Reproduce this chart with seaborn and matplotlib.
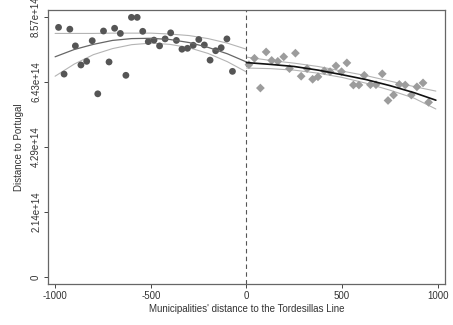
"""
Regression-discontinuity plot: distance to Portugal around the Tordesillas Line.
"""

import matplotlib

matplotlib.use("Agg")
import matplotlib.pyplot as plt
import numpy as np
import pandas as pd
import seaborn as sns

SCALE = 1e14

# binned means, west side of the line (values in units of 1e14)
west_x = [-982, -953, -923, -894, -865, -835, -806, -777, -747, -718, -689,
          -659, -630, -601, -571, -542, -513, -483, -454, -425, -396, -366,
          -337, -308, -278, -249, -220, -190, -161, -132, -102, -73]
west_y = [8.23, 6.69, 8.17, 7.62, 6.99, 7.11, 7.79, 6.04, 8.11, 7.09, 8.20,
          8.03, 6.65, 8.56, 8.56, 8.10, 7.76, 7.81, 7.62, 7.85, 8.05, 7.80,
          7.51, 7.54, 7.64, 7.83, 7.65, 7.15, 7.46, 7.56, 7.85, 6.78]

# binned means, east side of the line
east_x = [13, 42, 73, 103, 132, 164, 195, 225, 256, 286, 317, 346, 374, 407,
          437, 468, 497, 525, 559, 588, 616, 648, 677, 710, 740, 769, 799,
          830, 862, 891, 923, 952]
east_y = [7.00, 7.21, 6.23, 7.42, 7.14, 7.11, 7.26, 6.87, 7.38, 6.62, 6.87,
          6.52, 6.60, 6.80, 6.77, 6.96, 6.77, 7.06, 6.33, 6.33, 6.65, 6.34,
          6.34, 6.70, 5.82, 6.00, 6.35, 6.33, 6.00, 6.27, 6.40, 5.76]

# quadratic fit and confidence bounds
west_fit_x = [-1000, -900, -800, -700, -600, -500, -400, -300, -200, -100, 0]
west_fit = [7.26, 7.50, 7.67, 7.80, 7.86, 7.87, 7.83, 7.73, 7.57, 7.36, 7.09]
west_hi = [8.03, 8.03, 8.03, 8.04, 8.04, 8.04, 8.01, 7.96, 7.86, 7.71, 7.51]
west_lo = [6.62, 7.02, 7.33, 7.53, 7.66, 7.71, 7.67, 7.56, 7.37, 7.10, 6.76]

east_fit_x = [0, 125, 250, 375, 500, 625, 750, 875, 990]
east_fit = [7.07, 7.01, 6.94, 6.82, 6.67, 6.51, 6.31, 6.08, 5.83]
east_hi = [7.25, 7.14, 7.05, 6.94, 6.79, 6.64, 6.46, 6.28, 6.13]
east_lo = [6.89, 6.87, 6.82, 6.72, 6.58, 6.39, 6.16, 5.90, 5.54]

y_ticks = [0, 2.1425, 4.285, 6.4275, 8.57]
y_tick_labels = ["0", "2.14e+14", "4.29e+14", "6.43e+14", "8.57e+14"]
x_ticks = [-1000, -500, 0, 500, 1000]

sns.set_theme(style="ticks")
plt.rcParams["font.family"] = ["Liberation Sans", "DejaVu Sans"]

west = pd.DataFrame({"x": west_x, "y": np.array(west_y) * SCALE})
east = pd.DataFrame({"x": east_x, "y": np.array(east_y) * SCALE})

fig = plt.figure(figsize=(4.53, 3.25), dpi=100)
ax = fig.add_axes([0.106, 0.126, 0.876, 0.843])

# confidence bounds
for fx, band in [(west_fit_x, west_hi), (west_fit_x, west_lo),
                 (east_fit_x, east_hi), (east_fit_x, east_lo)]:
    sns.lineplot(x=fx, y=np.array(band) * SCALE, ax=ax, color="#b4b4b4",
                 linewidth=0.8, sort=False)

sns.scatterplot(data=west, x="x", y="y", ax=ax, marker="o", s=24,
                color="#555555", edgecolor="none", zorder=3)
sns.scatterplot(data=east, x="x", y="y", ax=ax, marker="D", s=20,
                color="#9c9c9c", edgecolor="none", zorder=3)

sns.lineplot(x=west_fit_x, y=np.array(west_fit) * SCALE, ax=ax,
             color="#666666", linewidth=0.9, zorder=4)
sns.lineplot(x=east_fit_x, y=np.array(east_fit) * SCALE, ax=ax,
             color="#111111", linewidth=1.2, zorder=4)

ax.axvline(0, color="#555555", linewidth=0.8, linestyle=(0, (4, 3)), zorder=2)

ax.set_xlim(-1037, 1037)
ax.set_ylim(-0.23 * SCALE, 8.80 * SCALE)
ax.set_xticks(x_ticks)
ax.set_xticklabels([str(t) for t in x_ticks])
ax.set_yticks(np.array(y_ticks) * SCALE)
ax.set_yticklabels(y_tick_labels)
plt.setp(ax.get_yticklabels(), rotation=90, va="center")

ax.tick_params(axis="both", labelsize=7, length=3, width=0.7,
               color="#444444", labelcolor="#333333", pad=2)
ax.set_xlabel("Municipalities' distance to the Tordesillas Line",
              fontsize=7, color="#333333", labelpad=2)
ax.set_ylabel("Distance to Portugal", fontsize=7, color="#333333", labelpad=5)

for side in ["left", "right", "top", "bottom"]:
    ax.spines[side].set_visible(True)
    ax.spines[side].set_color("#666666")
    ax.spines[side].set_linewidth(0.9)

fig.savefig("out.png", dpi=100)
plt.close(fig)
